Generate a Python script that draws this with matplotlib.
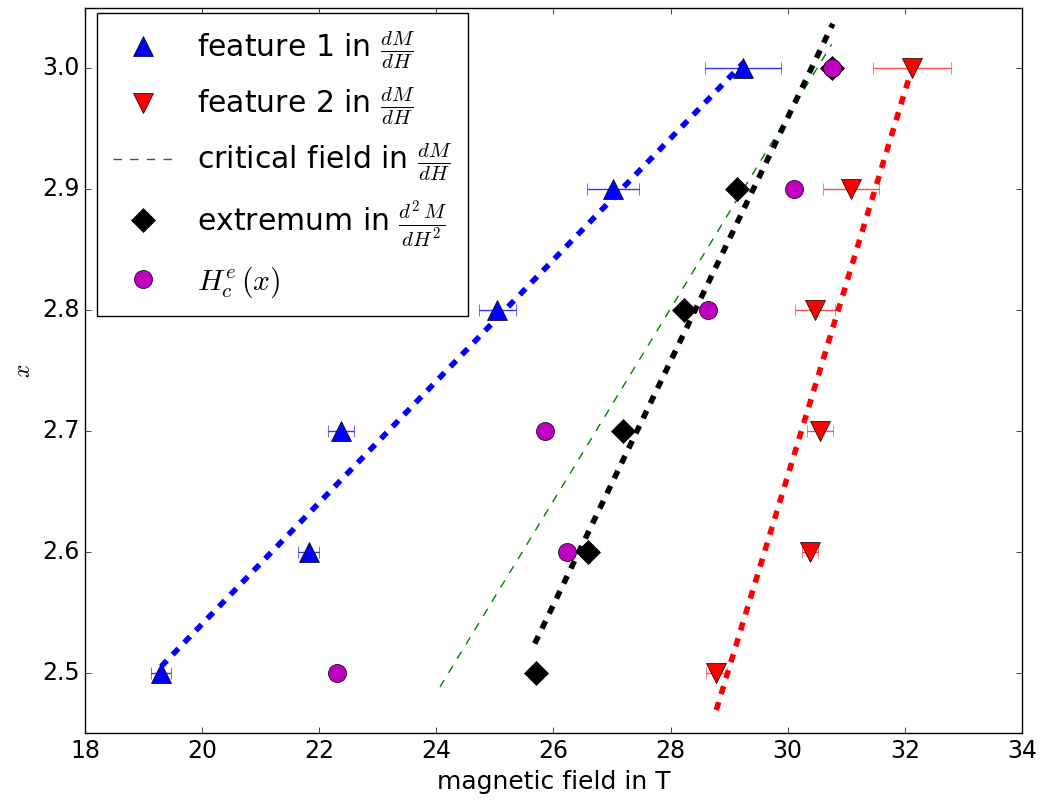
import matplotlib
matplotlib.use('Agg')
import matplotlib.pyplot as plt

plt.style.use('classic')

# concentration x
conc = [2.5, 2.6, 2.7, 2.8, 2.9, 3.0]

# feature 1 in dM/dH (field, error)
f1_field = [19.30, 21.82, 22.37, 25.04, 27.02, 29.24]
f1_err = [0.17, 0.18, 0.22, 0.32, 0.44, 0.65]

# feature 2 in dM/dH
f2_field = [28.78, 30.38, 30.55, 30.47, 31.08, 32.12]
f2_err = [0.18, 0.13, 0.22, 0.34, 0.48, 0.67]

# extremum in d2M/dH2
ext_field = [25.70, 26.59, 27.19, 28.23, 29.13, 30.76]

# H_c^e(x)
hce_field = [22.30, 26.23, 25.86, 28.64, 30.11, 30.76]

# linear guides (field endpoints, x endpoints)
crit_field = [24.06, 30.75]
crit_x = [2.488, 3.02]
fit1_field = [19.30, 29.25]
fit1_x = [2.505, 3.005]
fit2_field = [28.78, 32.12]
fit2_x = [2.469, 3.0]
fitext_field = [25.68, 30.77]
fitext_x = [2.524, 3.037]

fig = plt.figure(figsize=(10.45, 8.05), dpi=100)
ax = fig.add_axes([0.0813, 0.0894, 0.8967, 0.9006])

ax.errorbar(f1_field, conc, xerr=f1_err, fmt='none', ecolor='b', capsize=4.5, alpha=0.8)
ax.plot(f1_field, conc, '^', color='b', ms=14, label=r'feature 1 in $\frac{dM}{dH}$')
ax.errorbar(f2_field, conc, xerr=f2_err, fmt='none', ecolor='r', capsize=4.5, alpha=0.7)
ax.plot(f2_field, conc, 'v', color='r', ms=14, label=r'feature 2 in $\frac{dM}{dH}$')
ax.plot(crit_field, crit_x, '--', color='g', lw=1, label=r'critical field in $\frac{dM}{dH}$')
ax.plot(ext_field, conc, 'D', color='k', ms=12, label=r'extremum in $\frac{d^2\,M}{dH^2}$')
ax.plot(hce_field, conc, 'o', color='m', ms=13, label=r'$H_c^e\,(x)$')

ax.plot(fit1_field, fit1_x, '--', color='b', lw=4)
ax.plot(fit2_field, fit2_x, '--', color='r', lw=4)
ax.plot(fitext_field, fitext_x, '--', color='k', lw=4)

ax.set_xlim(18, 34)
ax.set_ylim(2.45, 3.05)
ax.set_xticks(range(18, 35, 2))
ax.set_yticks(conc)
ax.set_yticklabels(['%.1f' % v for v in conc])
ax.tick_params(labelsize=17)
ax.set_xlabel('magnetic field in T', fontsize=18)
ax.set_ylabel(r'$x$', fontsize=17)

ax.legend(loc='upper left', bbox_to_anchor=(0.0128, 0.993), borderaxespad=0,
          borderpad=0.55, numpoints=1, fontsize=21.5, fancybox=False)

fig.savefig('out.png', dpi=100)
